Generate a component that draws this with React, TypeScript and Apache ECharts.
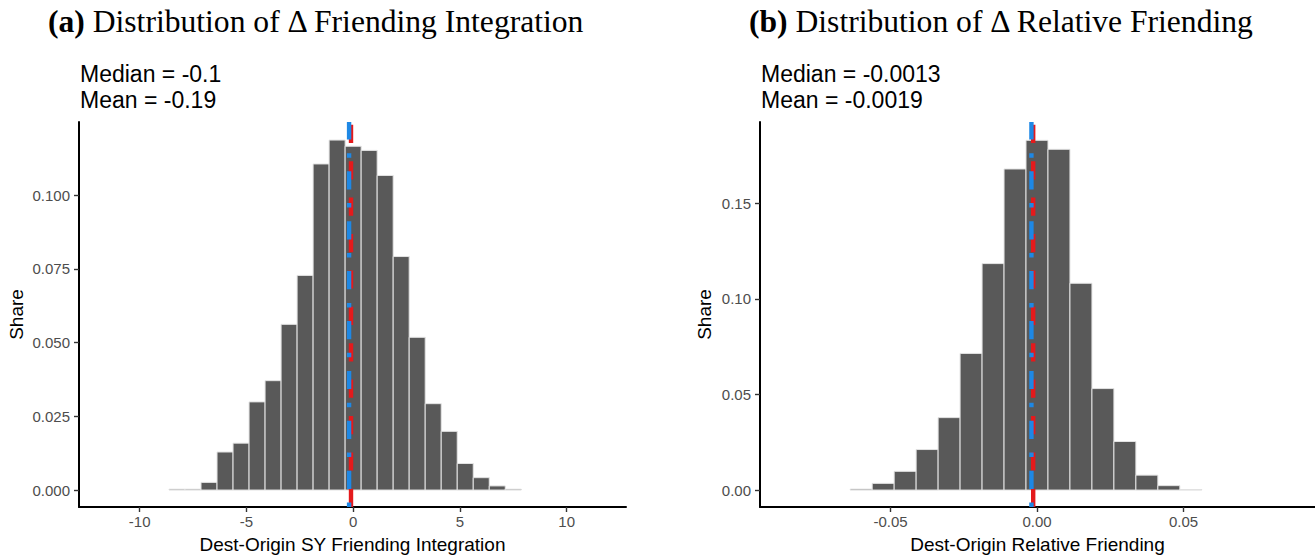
import React, { useEffect, useRef } from "react";
import * as echarts from "echarts";

// Panel (a): change in friending integration, bins of width 0.75
const integrationBins = [
  -8.25, -7.5, -6.75, -6.0, -5.25, -4.5, -3.75, -3.0, -2.25, -1.5, -0.75,
  0, 0.75, 1.5, 2.25, 3.0, 3.75, 4.5, 5.25, 6.0, 6.75, 7.5,
];
const integrationShare = [
  0.0003, 0.0003, 0.0026, 0.0129, 0.0159, 0.0299, 0.0371, 0.0562, 0.0728, 0.1106, 0.1187,
  0.1166, 0.1152, 0.1067, 0.0792, 0.0518, 0.0293, 0.0199, 0.009, 0.0042, 0.0014, 0.0003,
];
const integrationBinWidth = 0.75;
const integrationMedian = -0.1;
const integrationMean = -0.19;
const integrationXRange = [-12.84, 12.78];
const integrationYRange = [-0.00575, 0.12483];
const integrationXTicks = [-10, -5, 0, 5, 10];
const integrationYTicks = [0, 0.025, 0.05, 0.075, 0.1];

// Panel (b): change in relative friending, bins of width 0.0075
const relativeBins = [
  -0.06, -0.0525, -0.045, -0.0375, -0.03, -0.0225, -0.015, -0.0075,
  0, 0.0075, 0.015, 0.0225, 0.03, 0.0375, 0.045, 0.0525,
];
const relativeShare = [
  0.0005, 0.0035, 0.0098, 0.0212, 0.0379, 0.0715, 0.1185, 0.168,
  0.183, 0.1783, 0.1082, 0.0531, 0.0254, 0.0078, 0.0023, 0.0003,
];
const relativeBinWidth = 0.0075;
const relativeMedian = -0.0013;
const relativeMean = -0.0019;
const relativeXRange = [-0.09454, 0.09488];
const relativeYRange = [-0.00887, 0.19259];
const relativeXTicks = [-0.05, 0, 0.05];
const relativeYTicks = [0, 0.05, 0.1, 0.15];

const SANS = "'Liberation Sans', Arial, Helvetica, sans-serif";
const SERIF = "'Liberation Serif', 'Times New Roman', serif";
const BAR_FILL = "#595959";
const BAR_EDGE = "#e3e3e3";
const MEDIAN_RED = "#e41a1c";
const MEAN_BLUE = "#1e88e5";

function histogram(bins: number[], shares: number[], width: number, idx: number) {
  return {
    type: "custom",
    xAxisIndex: idx,
    yAxisIndex: idx,
    silent: true,
    z: 2,
    data: bins.map((c, i) => [c, shares[i]]),
    encode: { x: 0, y: 1 },
    renderItem: (_params: any, api: any) => {
      const c = api.value(0);
      const h = api.value(1);
      const p0 = api.coord([c - width / 2, h]);
      const p1 = api.coord([c + width / 2, 0]);
      return {
        type: "rect",
        shape: { x: p0[0], y: p0[1], width: p1[0] - p0[0], height: p1[1] - p0[1] },
        style: { fill: BAR_FILL, stroke: BAR_EDGE, lineWidth: 1 },
      };
    },
  };
}

function vline(x: number, yRange: number[], color: string, dash: number[], idx: number, z: number) {
  return {
    type: "line",
    xAxisIndex: idx,
    yAxisIndex: idx,
    silent: true,
    z,
    symbol: "none",
    clip: false,
    data: [
      [x, yRange[0]],
      [x, yRange[1]],
    ],
    lineStyle: { color, width: 4.4, type: dash, cap: "butt" },
  };
}

function xAxis(idx: number, range: number[], ticks: number[], digits: number, name: string) {
  return {
    type: "value",
    gridIndex: idx,
    min: range[0],
    max: range[1],
    name,
    nameLocation: "middle",
    nameGap: 28,
    nameTextStyle: { fontFamily: SANS, fontSize: 19, color: "#000" },
    splitLine: { show: false },
    axisLine: { show: true, onZero: false, lineStyle: { color: "#000", width: 2 } },
    axisTick: { show: true, customValues: ticks, length: 5, lineStyle: { color: "#333", width: 1.4 } },
    axisLabel: {
      customValues: ticks,
      formatter: (v: number) => v.toFixed(digits),
      margin: 7,
      color: "#4d4d4d",
      fontSize: 15,
      fontFamily: SANS,
    },
  };
}

function yAxis(idx: number, range: number[], ticks: number[], digits: number, gap: number) {
  return {
    type: "value",
    gridIndex: idx,
    min: range[0],
    max: range[1],
    name: "Share",
    nameLocation: "middle",
    nameGap: gap,
    nameTextStyle: { fontFamily: SANS, fontSize: 19, color: "#000" },
    splitLine: { show: false },
    axisLine: { show: true, onZero: false, lineStyle: { color: "#000", width: 2 } },
    axisTick: { show: true, customValues: ticks, length: 5, lineStyle: { color: "#333", width: 1.4 } },
    axisLabel: {
      customValues: ticks,
      formatter: (v: number) => v.toFixed(digits),
      margin: 9,
      color: "#4d4d4d",
      fontSize: 15,
      fontFamily: SANS,
    },
  };
}

const redDash = [18.2, 18.2];
const blueDotDash = [4.5, 13.6, 18.2, 13.6];

function panelTitle(tag: string, text: string, x: number) {
  return {
    type: "text",
    x,
    y: 21,
    style: {
      text: `{b|${tag}} ${text}`,
      fontFamily: SERIF,
      fontSize: 31.6,
      fill: "#000",
      verticalAlign: "middle",
      rich: { b: { fontFamily: SERIF, fontSize: 31.6, fontWeight: "bold" } },
    },
  };
}

function statsNote(median: number, mean: number, x: number) {
  return {
    type: "text",
    x,
    y: 61,
    style: {
      text: `Median = ${median}\nMean = ${mean}`,
      fontFamily: SANS,
      fontSize: 23,
      lineHeight: 26,
      fill: "#000",
      verticalAlign: "top",
    },
  };
}

export default function App() {
  const ref = useRef<HTMLDivElement>(null);

  useEffect(() => {
    if (!ref.current) return;
    const chart = echarts.init(ref.current, null, { renderer: "svg" });
    chart.setOption({
      animation: false,
      backgroundColor: "#fff",
      grid: [
        { left: 79, right: 689, top: 122, bottom: 51 },
        { left: 760, right: 0, top: 122, bottom: 51 },
      ],
      xAxis: [
        xAxis(0, integrationXRange, integrationXTicks, 0, "Dest-Origin SY Friending Integration"),
        xAxis(1, relativeXRange, relativeXTicks, 2, "Dest-Origin Relative Friending"),
      ],
      yAxis: [
        yAxis(0, integrationYRange, integrationYTicks, 3, 53),
        yAxis(1, relativeYRange, relativeYTicks, 2, 46),
      ],
      series: [
        histogram(integrationBins, integrationShare, integrationBinWidth, 0),
        vline(integrationMedian, integrationYRange, MEDIAN_RED, redDash, 0, 3),
        vline(integrationMean, integrationYRange, MEAN_BLUE, blueDotDash, 0, 4),
        histogram(relativeBins, relativeShare, relativeBinWidth, 1),
        vline(relativeMedian, relativeYRange, MEDIAN_RED, redDash, 1, 3),
        vline(relativeMean, relativeYRange, MEAN_BLUE, blueDotDash, 1, 4),
      ],
      graphic: [
        panelTitle("(a)", "Distribution of Δ Friending Integration", 48),
        panelTitle("(b)", "Distribution of Δ Relative Friending", 749),
        statsNote(integrationMedian, integrationMean, 80),
        statsNote(relativeMedian, relativeMean, 761),
      ],
    });
    return () => chart.dispose();
  }, []);

  return (
    <div
      ref={ref}
      style={{ position: "fixed", left: 0, top: 0, width: 1315, height: 559, background: "#fff" }}
    />
  );
}
